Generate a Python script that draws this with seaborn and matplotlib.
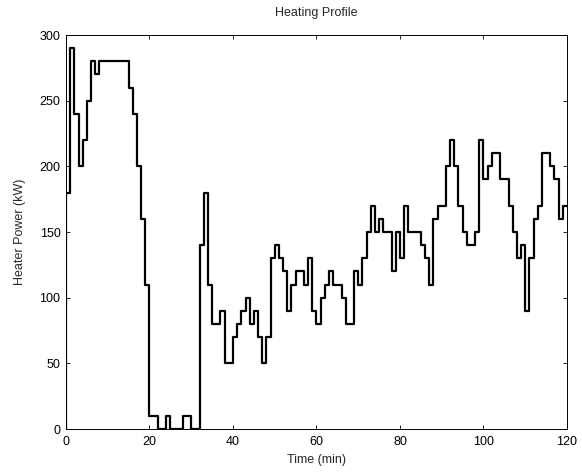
import matplotlib
matplotlib.use("Agg")
import matplotlib.pyplot as plt
import seaborn as sns
import pandas as pd

# Change points of the heater power step profile (time in min, power in kW)
change_times = [0, 0, 1, 2, 3, 4, 5, 6, 7, 8, 15, 16, 17, 18, 19, 20, 22, 24, 25, 28,
                30, 32, 33, 34, 35, 37, 38, 40, 41, 42, 43, 44, 45, 46, 47, 48, 49, 50,
                51, 52, 53, 54, 55, 57, 58, 59, 60, 61, 62, 63, 64, 66, 67, 69, 70, 71,
                72, 73, 74, 75, 76, 78, 79, 80, 81, 82, 85, 86, 87, 88, 89, 91, 92, 93,
                94, 95, 96, 98, 99, 100, 101, 102, 104, 106, 107, 108, 109, 110, 111,
                112, 113, 114, 116, 117, 118, 119, 120]
power_values = [0, 180, 290, 240, 200, 220, 250, 280, 270, 280, 260, 240, 200, 160, 110,
                10, 0, 10, 0, 10, 0, 140, 180, 110, 80, 90, 50, 70, 80, 90, 100, 80, 90,
                70, 50, 70, 130, 140, 130, 120, 90, 110, 120, 110, 130, 90, 80, 100, 110,
                120, 110, 100, 80, 120, 110, 130, 150, 170, 150, 160, 150, 120, 150, 130,
                170, 150, 140, 130, 110, 160, 170, 200, 220, 200, 170, 150, 140, 150, 220,
                190, 200, 210, 190, 170, 150, 130, 140, 90, 130, 160, 170, 210, 200, 190,
                160, 170, 170]

x_ticks = [0, 20, 40, 60, 80, 100, 120]
y_ticks = [0, 50, 100, 150, 200, 250, 300]

sns.set_theme(style="white")
plt.rcParams['font.family'] = ['Liberation Sans', 'DejaVu Sans']

df = pd.DataFrame({"Time (min)": change_times, "Heater Power (kW)": power_values})

fig = plt.figure(figsize=(5.82, 4.72), dpi=100)
ax = fig.add_axes([0.1134, 0.0911, 0.8608, 0.8347])

sns.lineplot(data=df, x="Time (min)", y="Heater Power (kW)", ax=ax,
             estimator=None, sort=False, drawstyle="steps-post",
             color="black", linewidth=1.6)

ax.set_xlim(0, 120)
ax.set_ylim(0, 300)
ax.set_xticks(x_ticks)
ax.set_yticks(y_ticks)
ax.set_xlabel("Time (min)", fontsize=9, labelpad=4)
ax.set_ylabel("Heater Power (kW)", fontsize=9, labelpad=10)
ax.set_title("Heating Profile", fontsize=9, pad=14)

for side in ["top", "right", "bottom", "left"]:
    ax.spines[side].set_visible(True)
    ax.spines[side].set_color("black")
    ax.spines[side].set_linewidth(0.7)

ax.tick_params(axis="both", which="both", direction="in", length=3, width=0.6,
               top=True, right=True, bottom=True, left=True,
               labelsize=9, colors="black")
ax.tick_params(axis="x", pad=5)
ax.tick_params(axis="y", pad=4)
ax.grid(False)

fig.savefig("out.png", dpi=100, facecolor="white")
